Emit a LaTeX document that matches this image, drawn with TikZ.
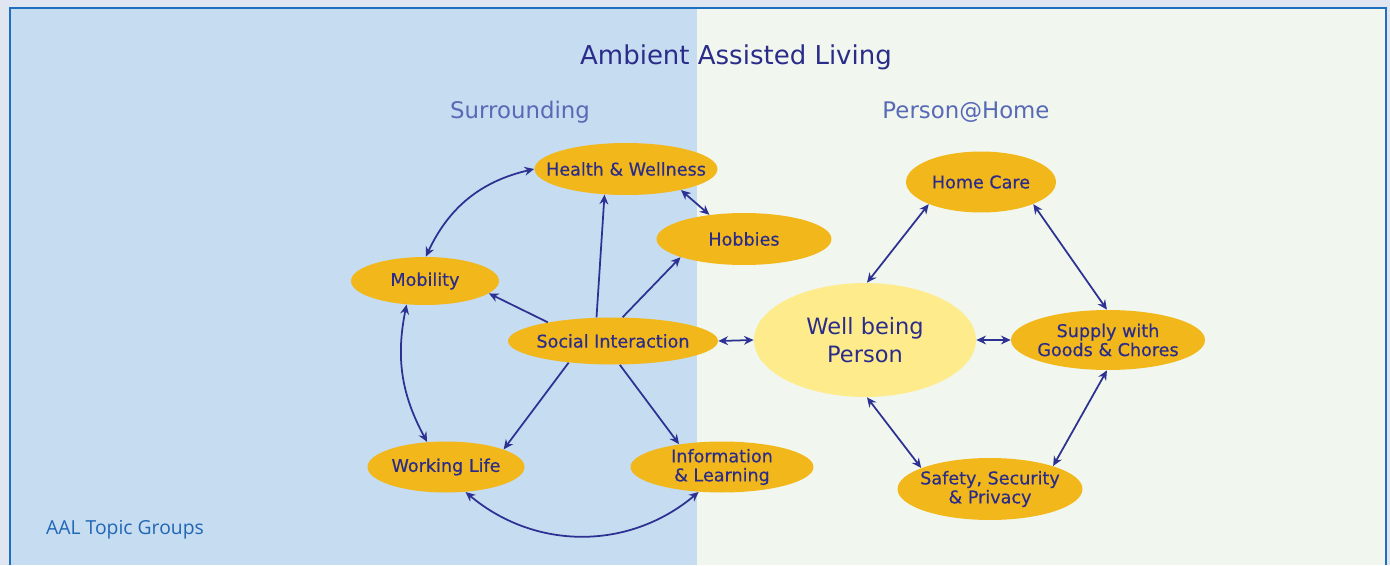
\documentclass[tikz,border=0pt]{standalone}
\usepackage{fontspec}
\setmainfont{DejaVu Sans}
\newfontfamily\topicfont[FakeBold=0.4]{DejaVu Sans}
\newfontfamily\groupfont{Open Sans}
\usetikzlibrary{shapes.geometric,arrows.meta}

\definecolor{outerbg}{HTML}{DFE5F1}
\definecolor{leftbg}{HTML}{C6DCF1}
\definecolor{rightbg}{HTML}{F1F7EE}
\definecolor{frameblue}{HTML}{1F6FC0}
\definecolor{topicfill}{HTML}{F2B71A}
\definecolor{wellfill}{HTML}{FEEC8C}
\definecolor{topictext}{HTML}{2B2C8A}
\definecolor{subblue}{HTML}{5869B6}
\definecolor{groupblue}{HTML}{2166B4}
\definecolor{linkblue}{HTML}{2D3192}

\tikzset{
  topic/.style={ellipse, fill=topicfill, text=topictext, inner xsep=-0.4cm, inner ysep=0pt,
                align=center, font=\topicfont\fontsize{10}{10.8}\selectfont},
  heading/.style={text=subblue, font=\fontsize{13}{15}\selectfont},
  link/.style={draw=linkblue, line width=1pt,
               {Stealth[length=5.5pt,width=5pt]}-{Stealth[length=5.5pt,width=5pt]}},
  oneway/.style={draw=linkblue, line width=1pt, -{Stealth[length=5.5pt,width=5pt]}}
}

\begin{document}
\begin{tikzpicture}[x=0.02cm,y=-0.02cm]
\useasboundingbox (0,0) rectangle (1390,565);
\fill[outerbg] (0,0) rectangle (1390,565);
\fill[leftbg] (10,8) rectangle (697,565);
\fill[rightbg] (697,8) rectangle (1386,565);
\draw[frameblue, line width=0.9pt] (10,565) -- (10,8) -- (1386,8) -- (1386,565);

\node[text=topictext, font=\fontsize{14.8}{17}\selectfont] (title) at (736,57) {Ambient Assisted Living};
\node[heading] (surrounding) at (520,112) {Surrounding};
\node[heading] (personhome) at (966,112) {Person@Home};
\node[anchor=west, text=groupblue, font=\groupfont\fontsize{11}{13}\selectfont] (groups) at (40,530) {AAL Topic Groups};

% Surrounding
\node[topic, minimum width=3.66cm, minimum height=1.04cm] (health) at (626,169) {Health \& Wellness};
\node[topic, minimum width=3.5cm, minimum height=1.04cm] (hobbies) at (744,239) {Hobbies};
\node[topic, minimum width=2.96cm, minimum height=0.96cm] (mobility) at (425,281) {Mobility};
\node[topic, minimum width=4.2cm, minimum height=0.94cm] (social) at (613,341) {Social Interaction};
\node[topic, minimum width=3.14cm, minimum height=1.02cm] (working) at (446,467) {Working Life};
\node[topic, minimum width=3.66cm, minimum height=1.02cm] (info) at (722,467) {Information\\\& Learning};

% Person@Home
\node[topic, fill=wellfill, minimum width=4.44cm, minimum height=2.28cm,
      font=\fontsize{12.8}{15.9}\selectfont] (well) at (865,340) {Well being\\Person};
\node[topic, minimum width=3.0cm, minimum height=1.22cm] (homecare) at (981,182) {Home Care};
\node[topic, minimum width=3.88cm, minimum height=1.2cm] (supply) at (1108,340) {Supply with\\Goods \& Chores};
\node[topic, minimum width=3.7cm, minimum height=1.24cm] (safety) at (990,489) {Safety, Security\\\& Privacy};

\draw[link] (health.180) to[bend right=26] (mobility.88);
\draw[link] (health.-21) -- (hobbies.145);
\draw[link] (mobility.232) to[bend right=20] (working.127);
\draw[link] (working.308) to[bend right=40] (info.227);
\draw[oneway] (social.125) -- (health.230);
\draw[oneway] (social.68) -- (hobbies.196);
\draw[oneway] (social.164) -- (mobility.-11);
\draw[oneway] (social.206) -- (working.17);
\draw[oneway] (social.286) -- (info.152);
\draw[link] (social.0) -- (well.180);

\draw[link] (well.88) -- (homecare.203);
\draw[link] (homecare.337) -- (supply.92);
\draw[link] (well.0) -- (supply.180);
\draw[link] (well.272) -- (safety.163);
\draw[link] (supply.268) -- (safety.20);
\end{tikzpicture}
\end{document}
